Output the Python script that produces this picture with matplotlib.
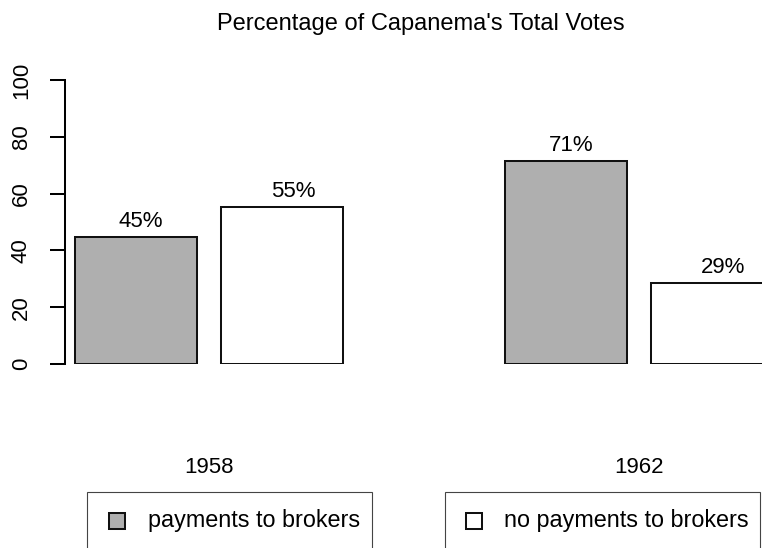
import matplotlib
matplotlib.use("Agg")
import matplotlib.pyplot as plt
from matplotlib.patches import Rectangle

plt.rcParams['font.family'] = ['Liberation Sans', 'DejaVu Sans']

years = ["1958", "1962"]
series_names = ["payments to brokers", "no payments to brokers"]
payments = [44.6, 71.4]
no_payments = [55.4, 28.6]
value_labels = [["45%", "71%"], ["55%", "29%"]]
colors = ["#AFAFAF", "white"]

W, H = 762, 548
fig = plt.figure(figsize=(W / 100, H / 100), dpi=100)

FS = 16
LW = 1.45

ax_left, ax_bottom_px, ax_top_px = 65, 364, 80
ax = fig.add_axes([ax_left / W, (H - ax_bottom_px) / H, (W - ax_left) / W, (ax_bottom_px - ax_top_px) / H])
ax.set_ylim(0, 100)
unit_px = 122.0
ax.set_xlim(0, (W - ax_left) / unit_px)

group_centers = [1.18, 1.18 + 3.525]
bar_offset = 0.598
bar_width = 1.0
label_dx_px = [5, 11]

for si, vals in enumerate([payments, no_payments]):
    xs = [gc + (2 * si - 1) * bar_offset for gc in group_centers]
    ax.bar(xs, vals, width=bar_width, color=colors[si], edgecolor='#111111', linewidth=LW, zorder=2)
    for x, v, lab in zip(xs, vals, value_labels[si]):
        ax.annotate(lab, (x, v), xytext=(label_dx_px[si] * 0.72, 3.5), textcoords='offset points',
                    ha='center', va='bottom', fontsize=FS, color='black')

for s in ['top', 'right', 'bottom']:
    ax.spines[s].set_visible(False)
ax.spines['left'].set_bounds(0, 100)
ax.spines['left'].set_linewidth(LW)
ax.set_yticks([0, 20, 40, 60, 80, 100])
ax.set_yticklabels(["0", "20", "40", "60", "80", "100"], rotation=90, va='center')
ax.tick_params(axis='y', length=10.8, width=LW, pad=13, labelsize=FS)
ax.set_xticks(group_centers)
ax.set_xticklabels(years)
ax.tick_params(axis='x', length=0, pad=67, labelsize=FS)

fig.text(421 / W, 1 - 30 / H, "Percentage of Capanema's Total Votes", ha='center', va='baseline', fontsize=17)

# legend boxes
boxes = [(87, 372), (445, 760)]
sq_x = [109, 466]
txt_x = [148, 504]
for i in range(2):
    x0, x1 = boxes[i]
    fig.add_artist(Rectangle((x0 / W, 1 - 552 / H), (x1 - x0) / W, 60 / H, transform=fig.transFigure,
                             facecolor='none', edgecolor='#444444', linewidth=0.8, clip_on=False))
    fig.add_artist(Rectangle((sq_x[i] / W, 1 - 529 / H), 16 / W, 16 / H, transform=fig.transFigure,
                             facecolor=colors[i], edgecolor='#111111', linewidth=LW))
    fig.text(txt_x[i] / W, 1 - 521 / H, series_names[i], ha='left', va='center', fontsize=16.8)

fig.savefig("out.png", dpi=100)
